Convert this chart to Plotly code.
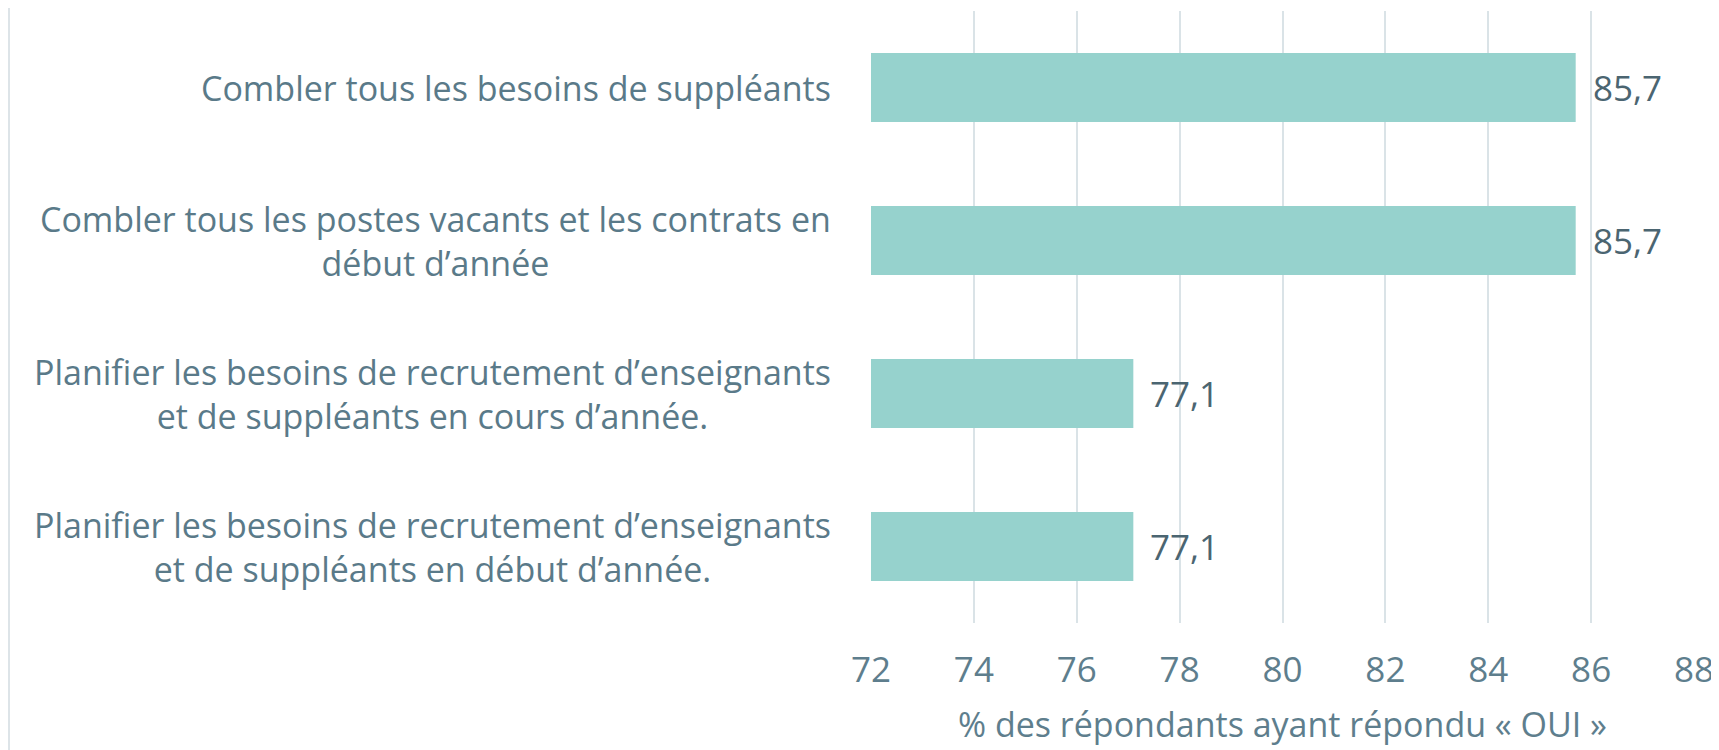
import plotly.graph_objects as go

# données
label_lines = [
    ["Combler tous les besoins de suppléants"],
    ["Combler tous les postes vacants et les contrats en", "début d’année"],
    ["Planifier les besoins de recrutement d’enseignants", "et de suppléants en cours d’année."],
    ["Planifier les besoins de recrutement d’enseignants", "et de suppléants en début d’année."],
]
values = [85.7, 85.7, 77.1, 77.1]
x_ticks = [72, 74, 76, 78, 80, 82, 84, 86, 88]
x_title = "% des répondants ayant répondu « OUI »"

categories = [" ".join(lines) for lines in label_lines]

FONT = "Open Sans"
BAR_COLOR = "#96D2CD"
GRID_COLOR = "#DAE3E7"
LABEL_COLOR = "#5A7A89"
TICK_COLOR = "#5E7E8D"
VALUE_COLOR = "#4B6571"

# la page html ajoute une marge de 8 px : on réduit la figure d'autant
W, H = 1711, 742
ML, MR, MT, MB = 863, 25, 3, 127
plot_w = W - ML - MR
plot_h = H - MT - MB

fig = go.Figure(
    go.Bar(
        x=values,
        y=categories,
        orientation="h",
        width=0.45,
        marker=dict(color=BAR_COLOR, line=dict(width=0)),
        hoverinfo="x+y",
    )
)

# étiquettes de catégories (lignes centrées entre elles)
for cat, lines in zip(categories, label_lines):
    fig.add_annotation(
        text="<br>".join(lines),
        xref="paper",
        yref="y",
        x=0,
        y=cat,
        xanchor="right",
        yanchor="middle",
        align="center",
        xshift=-38,
        showarrow=False,
        font=dict(family=FONT, size=34, color=LABEL_COLOR),
    )

# étiquettes de valeurs
for cat, v in zip(categories, values):
    fig.add_annotation(
        text=f"{v:.1f}".replace(".", ","),
        xref="x",
        yref="y",
        x=v,
        y=cat,
        xanchor="left",
        yanchor="middle",
        xshift=15,
        showarrow=False,
        font=dict(family=FONT, size=35, color=VALUE_COLOR),
    )

# titre de l'axe horizontal
fig.add_annotation(
    text=x_title,
    xref="paper",
    yref="paper",
    x=0.5,
    y=-101 / plot_h,
    xanchor="center",
    yanchor="middle",
    showarrow=False,
    font=dict(family=FONT, size=34, color=TICK_COLOR),
)

# bordure gauche
fig.add_shape(
    type="line",
    xref="paper",
    yref="paper",
    x0=(1 - ML) / plot_w,
    x1=(1 - ML) / plot_w,
    y0=-MB / plot_h,
    y1=1 + MT / plot_h,
    line=dict(color="#DDE4E8", width=2),
)

fig.update_xaxes(
    range=[72, 88],
    tickvals=x_ticks,
    showgrid=True,
    gridcolor=GRID_COLOR,
    gridwidth=2,
    zeroline=False,
    showline=False,
    ticks="",
    ticklabelstandoff=23,
    tickfont=dict(family=FONT, size=35, color=TICK_COLOR),
)
fig.update_yaxes(
    categoryorder="array",
    categoryarray=categories,
    autorange="reversed",
    showticklabels=False,
    showgrid=False,
    zeroline=False,
    showline=False,
    ticks="",
)

fig.update_layout(
    width=W,
    height=H,
    margin=dict(l=ML, r=MR, t=MT, b=MB),
    plot_bgcolor="white",
    paper_bgcolor="white",
    showlegend=False,
)

fig.write_html("out.html")
